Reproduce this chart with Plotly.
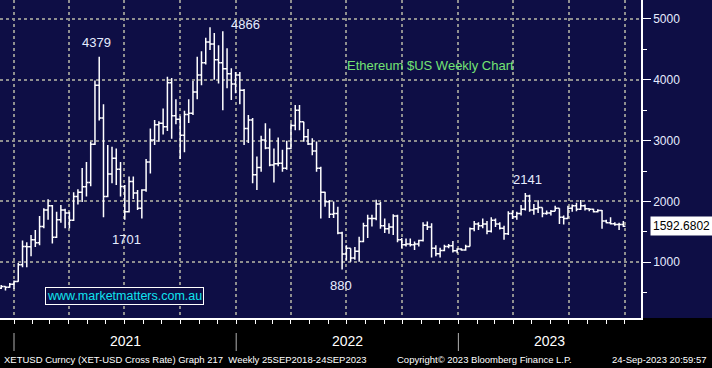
import pandas as pd
import plotly.graph_objects as go

# ---- data (weekly OHLC, XET-USD, bars dated on the Friday after each week) ----
opens = [575, 600, 590, 640, 685, 960, 1260, 1255, 1370, 1320, 1590, 1860, 1930, 1410, 1700, 1860, 1810, 1690, 2080, 2150,
         2240, 2310, 2940, 3910, 3370, 2080, 2450, 2710, 2530, 2245, 1830, 2330, 2140, 1890, 2190, 2650, 3010, 3260, 3285, 3230,
         3950, 3410, 3350, 3090, 3430, 3450, 3800, 4080, 4280, 4620, 4590, 4330, 4280, 4180, 4100, 3930, 4080, 3830, 3200, 3340,
         2440, 2560, 3010, 2880, 2600, 2620, 2630, 2545, 2870, 3250, 3500, 3310, 3064, 2944, 2830, 2545, 2150, 1996, 1790, 1800,
         1480, 1136, 1230, 1070, 1180, 1340, 1600, 1720, 1720, 1960, 1600, 1550, 1580, 1760, 1370, 1290, 1300, 1290, 1300, 1360,
         1610, 1580, 1230, 1140, 1195, 1260, 1270, 1190, 1220, 1200, 1260, 1550, 1630, 1600, 1630, 1510, 1690, 1630, 1560, 1470,
         1800, 1750, 1800, 1870, 2090, 1860, 1880, 1900, 1800, 1810, 1840, 1890, 1740, 1720, 1890, 1930, 1870, 1930, 1880, 1870,
         1830, 1850, 1680, 1650, 1635, 1620, 1620]
highs = [625, 605, 660, 700, 990, 1360, 1330, 1450, 1530, 1760, 1890, 2035, 1940, 1830, 1940, 1880, 1830, 2150, 2200, 2550,
         2650, 2980, 3990, 4379, 3600, 2930, 2900, 2870, 2650, 2270, 2410, 2410, 2190, 2200, 2700, 3200, 3340, 3320, 3530, 4050,
         4030, 3680, 3400, 3490, 3680, 3980, 4380, 4470, 4690, 4866, 4770, 4570, 4800, 4520, 4190, 4130, 4130, 3850, 3420, 3370,
         2740, 3080, 3285, 3200, 2870, 3050, 2850, 3000, 3285, 3585, 3585, 3310, 3190, 3040, 2985, 2570, 2160, 2024, 2000, 1914,
         1500, 1280, 1230, 1250, 1420, 1650, 1780, 1780, 2030, 1990, 1720, 1640, 1790, 1780, 1400, 1390, 1390, 1340, 1370, 1660,
         1670, 1640, 1280, 1240, 1290, 1300, 1350, 1230, 1230, 1290, 1570, 1680, 1660, 1720, 1680, 1740, 1720, 1660, 1600, 1840,
         1850, 1830, 1940, 2141, 2110, 1960, 2020, 1900, 1850, 1860, 1930, 1890, 1770, 1930, 1950, 1980, 2025, 1950, 1890, 1880,
         1870, 1860, 1700, 1740, 1660, 1650, 1680]
lows = [560, 535, 580, 560, 680, 920, 920, 1100, 1250, 1280, 1560, 1700, 1310, 1400, 1650, 1560, 1560, 1680, 1950, 1990,
        2080, 2250, 2930, 3330, 1740, 2070, 2300, 2270, 2080, 1701, 1820, 2040, 1860, 1720, 2160, 2460, 2930, 2980, 3100, 3160,
        3030, 3270, 2700, 2810, 3290, 3420, 3680, 3910, 4250, 4490, 4000, 3940, 3500, 3860, 3670, 3780, 3600, 2930, 2960, 2300,
        2190, 2490, 2860, 2580, 2310, 2580, 2490, 2520, 2860, 3170, 3170, 2980, 2930, 2760, 2490, 1720, 1914, 1727, 1730, 1460,
        880, 1030, 1010, 1040, 1010, 1330, 1400, 1590, 1690, 1550, 1480, 1470, 1450, 1330, 1230, 1260, 1260, 1200, 1260, 1340,
        1530, 1080, 1100, 1080, 1180, 1230, 1160, 1150, 1190, 1190, 1260, 1510, 1530, 1560, 1460, 1490, 1580, 1540, 1370, 1450,
        1710, 1700, 1770, 1850, 1830, 1780, 1810, 1740, 1780, 1770, 1840, 1630, 1620, 1720, 1830, 1840, 1860, 1850, 1840, 1820,
        1820, 1550, 1640, 1620, 1600, 1530, 1580]
closes = [600, 590, 640, 685, 960, 1260, 1255, 1370, 1320, 1590, 1860, 1930, 1410, 1700, 1860, 1810, 1690, 2080, 2150, 2240,
          2310, 2940, 3910, 3370, 2080, 2450, 2710, 2530, 2245, 1830, 2330, 2140, 1890, 2190, 2650, 3010, 3260, 3285, 3230, 3950,
          3410, 3350, 3090, 3430, 3450, 3800, 4080, 4280, 4620, 4590, 4330, 4280, 4180, 4100, 3930, 4080, 3830, 3200, 3340, 2440,
          2560, 3010, 2880, 2600, 2620, 2630, 2545, 2870, 3250, 3500, 3310, 3064, 2944, 2830, 2545, 2150, 1996, 1790, 1800, 1480,
          1136, 1230, 1070, 1180, 1340, 1600, 1720, 1720, 1960, 1600, 1550, 1580, 1760, 1370, 1290, 1300, 1290, 1300, 1360, 1610,
          1580, 1230, 1140, 1195, 1260, 1270, 1190, 1220, 1200, 1260, 1550, 1630, 1600, 1630, 1510, 1690, 1630, 1560, 1470, 1800,
          1750, 1800, 1870, 2090, 1860, 1880, 1900, 1800, 1810, 1840, 1890, 1740, 1720, 1890, 1930, 1870, 1930, 1880, 1870, 1830,
          1850, 1680, 1650, 1635, 1620, 1620, 1592.6802]
dates = pd.date_range("2020-12-11", periods=len(closes), freq="7D")

y_ticks = [1000, 2000, 3000, 4000, 5000]
year_labels = ["2021", "2022", "2023"]
peak_labels = ["4379", "1701", "4866", "880", "2141"]
title_text = "Ethereum $US Weekly Chart"
site_text = "www.marketmatters.com.au"
footer_left = "XETUSD Curncy (XET-USD Cross Rate) Graph 217  Weekly 25SEP2018-24SEP2023"
footer_mid = "Copyright\u00a9 2023 Bloomberg Finance L.P."
footer_right = "24-Sep-2023 20:59:57"

# ---- layout constants ----
W, H = 712, 368
PW, PH = 641, 318          # plot area in pixels
NAVY = "#0e0e45"
GRID = "#8f8f8f"
LABEL = "#e6ecff"
X_RANGE = ["2020-12-09", "2023-10-28"]
Y_RANGE = [84, 5312]
FONT = "Liberation Sans, Arial, sans-serif"


def px(xp):
    return xp / PW


def py(yp):
    return 1 - yp / PH


fig = go.Figure()
fig.add_trace(go.Ohlc(
    x=dates, open=opens, high=highs, low=lows, close=closes,
    increasing=dict(line=dict(color="white", width=1.5)),
    decreasing=dict(line=dict(color="white", width=1.5)),
    tickwidth=0.5, hoverinfo="skip", showlegend=False,
))

# axis decorations drawn on a pixel-scaled overlay axis (triangles at major ticks, price pointer)
fig.add_trace(go.Scatter(
    x=[645] * len(y_ticks), y=y_ticks, xaxis="x2", mode="markers",
    marker=dict(symbol="triangle-right", size=8, color="white"),
    cliponaxis=False, hoverinfo="skip", showlegend=False,
))
fig.add_trace(go.Scatter(
    x=[652], y=[closes[-1]], xaxis="x2", mode="markers",
    marker=dict(symbol="triangle-left", size=16, color="white"),
    cliponaxis=False, hoverinfo="skip", showlegend=False,
))

fig.update_layout(
    width=W, height=H,
    margin=dict(l=0, r=W - PW, t=0, b=H - PH),
    paper_bgcolor=NAVY, plot_bgcolor=NAVY,
    showlegend=False,
    font=dict(family=FONT, color=LABEL, size=12),
    xaxis=dict(
        type="date", range=X_RANGE, rangeslider=dict(visible=False),
        tick0="2021-01-01", dtick="M3",
        showgrid=True, gridcolor=GRID, gridwidth=2, griddash="dot",
        showticklabels=False, ticks="outside", ticklen=4, tickcolor="white", tickwidth=1,
        minor=dict(dtick="M1", ticks="outside", ticklen=4, tickcolor="white", tickwidth=1, showgrid=False),
        showline=True, linecolor="white", linewidth=1.5, zeroline=False, fixedrange=True,
    ),
    xaxis2=dict(range=[0, PW], overlaying="x", visible=False, fixedrange=True),
    yaxis=dict(
        side="right", range=Y_RANGE, tick0=0, dtick=1000,
        showgrid=True, gridcolor=GRID, gridwidth=2, griddash="dot",
        ticks="outside", ticklen=8, tickcolor="white", tickwidth=1,
        minor=dict(dtick=500, ticks="outside", ticklen=4, tickcolor="white", tickwidth=1, showgrid=False),
        tickfont=dict(size=12, color=LABEL, family=FONT),
        showline=True, linecolor="white", linewidth=1.5, zeroline=False, fixedrange=True,
    ),
)

shapes = [
    # black band under the plot
    dict(type="rect", xref="paper", yref="paper", x0=-0.05, x1=1.2, y0=-0.25, y1=0,
         fillcolor="black", line=dict(width=0), layer="below"),
]
for yr in year_labels:
    shapes.append(dict(type="line", xref="x", yref="paper", x0=f"{yr}-01-01", x1=f"{yr}-01-01",
                       y0=py(333), y1=py(351), line=dict(color="#b0b0b0", width=1)))
fig.update_layout(shapes=shapes)

ann = []
# peak / trough labels
label_pos = [(96, 43), (126, 239), (245.5, 24.5), (340.5, 285.5), (527, 179.5)]
for t, (xp, yp) in zip(peak_labels, label_pos):
    ann.append(dict(text=t, xref="paper", yref="paper", x=px(xp), y=py(yp), showarrow=False,
                    xanchor="center", yanchor="middle", font=dict(size=13, color=LABEL)))
ann.append(dict(text=title_text, xref="paper", yref="paper", x=px(430), y=py(66), showarrow=False,
                xanchor="center", yanchor="middle", font=dict(size=13, color="#74e374")))
ann.append(dict(text=site_text, xref="paper", yref="paper", x=px(124.5), y=py(296), showarrow=False,
                xanchor="center", yanchor="middle", font=dict(size=12.5, color="#10e4f0"),
                bgcolor=NAVY, bordercolor="white", borderwidth=1, borderpad=1))
# last price box
ann.append(dict(text=f"{closes[-1]:.4f}", xref="paper", yref="y", x=px(650), y=closes[-1], showarrow=False,
                xanchor="left", yanchor="middle", font=dict(size=12, color="black"),
                bgcolor="white", borderpad=2))
# year labels centred in the visible part of each year
x0, x1 = pd.Timestamp(X_RANGE[0]), pd.Timestamp(X_RANGE[1])
for yr in year_labels:
    a = max(pd.Timestamp(f"{yr}-01-01"), x0)
    b = min(pd.Timestamp(f"{int(yr) + 1}-01-01"), x1)
    mid = a + (b - a) / 2
    ann.append(dict(text=yr, xref="x", yref="paper", x=mid, y=py(341), showarrow=False,
                    xanchor="center", yanchor="middle", font=dict(size=14, color="white", family=FONT)))
foot_font = dict(size=9.5, color="white", family=FONT)
ann.append(dict(text=footer_left, xref="paper", yref="paper", x=px(2), y=py(359), showarrow=False,
                xanchor="left", yanchor="middle", font=foot_font))
ann.append(dict(text=footer_mid, xref="paper", yref="paper", x=px(395), y=py(359), showarrow=False,
                xanchor="left", yanchor="middle", font=foot_font))
ann.append(dict(text=footer_right, xref="paper", yref="paper", x=px(709), y=py(359), showarrow=False,
                xanchor="right", yanchor="middle", font=foot_font))
fig.update_layout(annotations=ann)

fig.write_html("out.html", config={"displayModeBar": False},
               post_script="document.body.style.margin='0';document.body.style.overflow='hidden';")
